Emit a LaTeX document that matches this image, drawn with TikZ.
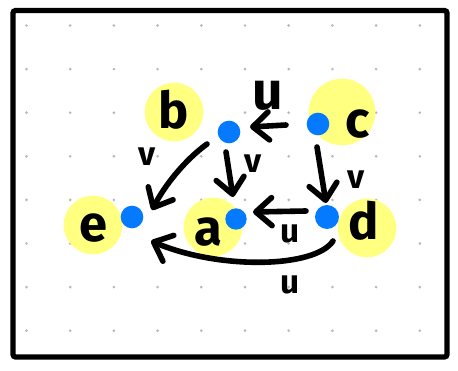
\documentclass[tikz,border=0pt]{standalone}
\usepackage{fontspec}
\setmainfont{Fira Sans}
\usetikzlibrary{arrows.meta}
\definecolor{hl}{RGB}{255,255,128}
\definecolor{pt}{RGB}{5,122,255}
\definecolor{griddot}{RGB}{185,185,185}
\tikzset{
  frame/.style={line width=4pt, rounded corners=2pt},
  halo/.style={circle, fill=hl, inner sep=0pt},
  spot/.style={circle, fill=pt, inner sep=0pt, minimum size=17pt},
  letter/.style={font=\fontsize{38}{38}\selectfont\bfseries, inner sep=0pt},
  lbl/.style={font=\fontsize{40}{40}\selectfont\bfseries, inner sep=0pt},
  small/.style={font=\fontsize{25}{25}\selectfont\bfseries, inner sep=0pt},
  pen/.style={line width=4.2pt, line cap=round, line join=round,
    -{Straight Barb[length=12pt, width=21pt, line width=4.2pt, round]}},
}
\begin{document}
\begin{tikzpicture}[x=0.75pt, y=-0.75pt]
\useasboundingbox (0,0) rectangle (458,371);
\fill[white] (0,0) rectangle (458,371);
% dotted paper
\foreach \i in {0,...,9}
  \foreach \j in {0,...,7}
    \fill[griddot] (26.5+43.7*\i, 25.5+43.6*\j) circle (1.1pt);
\draw[frame] (13,10.5) rectangle (447,357);

% highlighted labels
\node[halo, minimum size=44pt] (hb) at (174,112) {};
\node[halo, minimum size=50pt] (hc) at (342,112) {};
\node[halo, minimum size=44pt] (he) at (93,225) {};
\node[halo, minimum size=44pt] (ha) at (213,227) {};
\node[halo, minimum size=44pt] (hd) at (367,228) {};

\node[letter] (lb) at (174,110) {b};
\node[letter] (lc) at (358,124) {c};
\node[letter] (le) at (93,228) {e};
\node[letter] (la) at (208,232) {a};
\node[letter] (ld) at (364,221) {d};

% points
\node[spot] (pt) at (229,132) {};
\node[spot] (pc) at (318,124) {};
\node[spot] (pe) at (132,217) {};
\node[spot, minimum size=16pt] (pa) at (236,219) {};
\node[spot, minimum size=18pt] (pd) at (327,217) {};

% arrows
\coordinate (tS) at (286,125);
\coordinate (tE) at (250,127);
\draw[pen] (tS) -- (tE);
\node[lbl] (u1) at (268,96) {u};

\coordinate (beS) at (207,144);
\coordinate (beE) at (152,210);
\draw[pen] (beS) .. controls (185,160) and (165,185) .. (beE);
\node[small] (v1) at (147,157) {v};

\coordinate (baS) at (226,152);
\coordinate (baE) at (233,197);
\draw[pen] (baS) -- (baE);
\node[small] (v2) at (253,164) {v};

\coordinate (cdS) at (317,147);
\coordinate (cdE) at (326,203);
\draw[pen] (cdS) -- (cdE);
\node[small] (v3) at (356,180) {v};

\coordinate (daS) at (306,211);
\coordinate (daE) at (253,212);
\draw[pen] (daS) -- (daE);
\node[small] (u2) at (290,234) {u};

\coordinate (deS) at (333,241);
\coordinate (deE) at (151,241);
\draw[pen] (deS) .. controls (315,268) and (220,270) .. (deE);
\node[small] (u3) at (290,285) {u};
\end{tikzpicture}
\end{document}
